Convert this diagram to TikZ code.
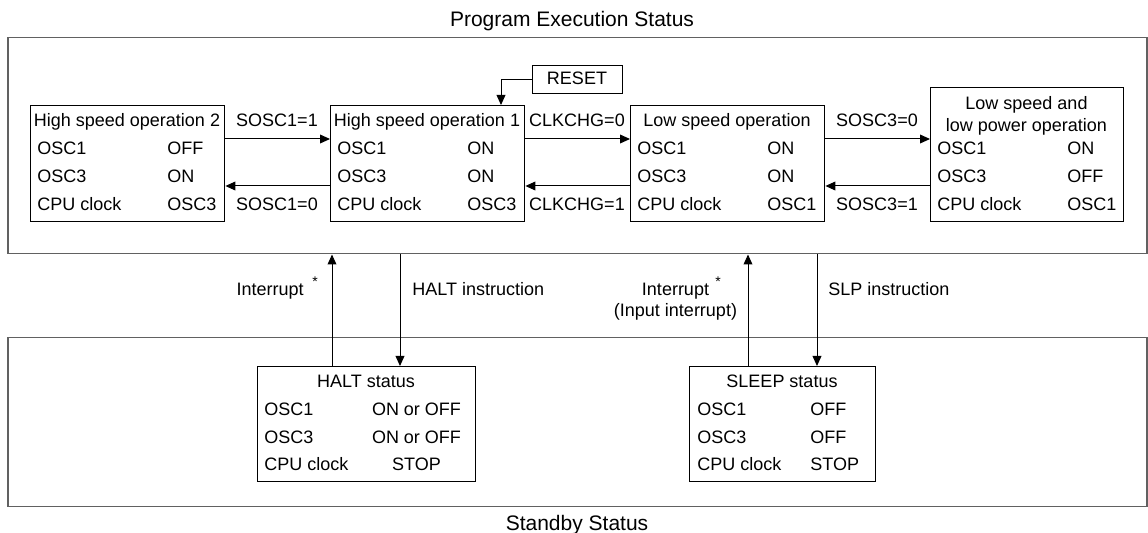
\documentclass[tikz,border=0pt]{standalone}
\usepackage{fontspec}
\setmainfont{Liberation Sans}
\usetikzlibrary{arrows.meta}
\begin{document}
\begin{tikzpicture}[x=0.5pt,y=-0.5pt,
  frame/.style={draw=black!62, line width=0.75pt, inner sep=0, anchor=north west},
  statebox/.style={draw, line width=0.7pt, inner sep=0, anchor=north west},
  txt/.style={inner sep=0, font=\fontsize{9}{11}\selectfont},
  big/.style={inner sep=0, font=\fontsize{10.5}{12}\selectfont},
  star/.style={inner sep=0, font=\fontsize{7}{8}\selectfont},
  arr/.style={-{Triangle[length=5pt,width=4.4pt]}, line width=0.5pt}]
\useasboundingbox (0,0) rectangle (1148,533);

% status areas
\node[frame, minimum width=569.5pt, minimum height=108pt] (prog) at (7,37) {};
\node[frame, minimum width=569.5pt, minimum height=84.5pt] (stby) at (7,337) {};
\node[big, anchor=base] (progt) at (572,27) {Program Execution Status};
\node[big, anchor=base] (stbyt) at (577,531) {Standby Status};

% operating states
\node[statebox, minimum width=97pt, minimum height=58pt] (hs2) at (30,105) {};
\node[statebox, minimum width=97pt, minimum height=58pt] (hs1) at (330,105) {};
\node[statebox, minimum width=97pt, minimum height=58pt] (ls) at (630,105) {};
\node[statebox, minimum width=96.5pt, minimum height=67pt] (lslp) at (930,87) {};

\node[txt, anchor=base] (hs2t) at (127,127) {High speed operation 2};
\node[txt, anchor=base west] (hs2a) at (37,155) {OSC1};
\node[txt, anchor=base west] (hs2b) at (167,155) {OFF};
\node[txt, anchor=base west] (hs2c) at (37,183) {OSC3};
\node[txt, anchor=base west] (hs2d) at (167,183) {ON};
\node[txt, anchor=base west] (hs2e) at (37,211) {CPU clock};
\node[txt, anchor=base west] (hs2f) at (167,211) {OSC3};

\node[txt, anchor=base] (hs1t) at (427,127) {High speed operation 1};
\node[txt, anchor=base west] (hs1a) at (337,155) {OSC1};
\node[txt, anchor=base west] (hs1b) at (467,155) {ON};
\node[txt, anchor=base west] (hs1c) at (337,183) {OSC3};
\node[txt, anchor=base west] (hs1d) at (467,183) {ON};
\node[txt, anchor=base west] (hs1e) at (337,211) {CPU clock};
\node[txt, anchor=base west] (hs1f) at (467,211) {OSC3};

\node[txt, anchor=base] (lst) at (727,127) {Low speed operation};
\node[txt, anchor=base west] (lsa) at (637,155) {OSC1};
\node[txt, anchor=base west] (lsb) at (767,155) {ON};
\node[txt, anchor=base west] (lsc) at (637,183) {OSC3};
\node[txt, anchor=base west] (lsd) at (767,183) {ON};
\node[txt, anchor=base west] (lse) at (637,211) {CPU clock};
\node[txt, anchor=base west] (lsf) at (767,211) {OSC1};

\node[txt, anchor=base] (lslpt1) at (1026.5,110) {Low speed and};
\node[txt, anchor=base] (lslpt2) at (1026.5,132) {low power operation};
\node[txt, anchor=base west] (lslpa) at (937,155) {OSC1};
\node[txt, anchor=base west] (lslpb) at (1067,155) {ON};
\node[txt, anchor=base west] (lslpc) at (937,183) {OSC3};
\node[txt, anchor=base west] (lslpd) at (1067,183) {OFF};
\node[txt, anchor=base west] (lslpe) at (937,211) {CPU clock};
\node[txt, anchor=base west] (lslpf) at (1067,211) {OSC1};

% reset input
\node[statebox, minimum width=45pt, minimum height=14pt] (reset) at (532,65) {};
\node[txt, anchor=base] (resett) at (577,85) {RESET};

% standby states
\node[statebox, minimum width=109pt, minimum height=57.5pt] (halt) at (257,366) {};
\node[txt, anchor=base] (haltt) at (366,388) {HALT status};
\node[txt, anchor=base west] (halta) at (264,416) {OSC1};
\node[txt, anchor=base] (haltb) at (416.5,416) {ON or OFF};
\node[txt, anchor=base west] (haltc) at (264,443.5) {OSC3};
\node[txt, anchor=base] (haltd) at (416.5,443.5) {ON or OFF};
\node[txt, anchor=base west] (halte) at (264,471) {CPU clock};
\node[txt, anchor=base] (haltf) at (416.5,471) {STOP};

\node[statebox, minimum width=93pt, minimum height=57.5pt] (sleep) at (689,366) {};
\node[txt, anchor=base] (sleept) at (782,388) {SLEEP status};
\node[txt, anchor=base west] (sleepa) at (697,416) {OSC1};
\node[txt, anchor=base west] (sleepb) at (810,416) {OFF};
\node[txt, anchor=base west] (sleepc) at (697,443.5) {OSC3};
\node[txt, anchor=base west] (sleepd) at (810,443.5) {OFF};
\node[txt, anchor=base west] (sleepe) at (697,471) {CPU clock};
\node[txt, anchor=base west] (sleepf) at (810,471) {STOP};

% connector levels
\coordinate (yA) at (0,139);
\coordinate (yB) at (0,186);
\coordinate (xR) at (501,0);
\coordinate (xH1) at (332,0);
\coordinate (xH2) at (400,0);
\coordinate (xS1) at (748,0);
\coordinate (xS2) at (817,0);

% clock switching
\draw[arr] (hs2.east |- yA) -- (hs1.west |- yA);
\draw[arr] (hs1.west |- yB) -- (hs2.east |- yB);
\draw[arr] (hs1.east |- yA) -- (ls.west |- yA);
\draw[arr] (ls.west |- yB) -- (hs1.east |- yB);
\draw[arr] (ls.east |- yA) -- (lslp.west |- yA);
\draw[arr] (lslp.west |- yB) -- (ls.east |- yB);
\node[txt, anchor=base] (l1) at (277,127) {SOSC1=1};
\node[txt, anchor=base] (l2) at (277,211) {SOSC1=0};
\node[txt, anchor=base] (l3) at (577,127) {CLKCHG=0};
\node[txt, anchor=base] (l4) at (577,211) {CLKCHG=1};
\node[txt, anchor=base] (l5) at (877,127) {SOSC3=0};
\node[txt, anchor=base] (l6) at (877,211) {SOSC3=1};

\draw[arr] (reset.west) -| (hs1.north -| xR);

% standby transitions
\draw[arr] (halt.north -| xH1) -- (prog.south -| xH1);
\draw[arr] (prog.south -| xH2) -- (halt.north -| xH2);
\draw[arr] (sleep.north -| xS1) -- (prog.south -| xS1);
\draw[arr] (prog.south -| xS2) -- (sleep.north -| xS2);
\node[txt, anchor=base east] (i1) at (304,296) {Interrupt};
\node[star, anchor=base] (i1s) at (315,287) {*};
\node[txt, anchor=base west] (hi) at (412,296) {HALT instruction};
\node[txt, anchor=base] (i2) at (675.5,296) {Interrupt};
\node[star, anchor=base] (i2s) at (718,287) {*};
\node[txt, anchor=base] (i2b) at (675.5,317) {(Input interrupt)};
\node[txt, anchor=base west] (si) at (828,296) {SLP instruction};
\end{tikzpicture}
\end{document}
